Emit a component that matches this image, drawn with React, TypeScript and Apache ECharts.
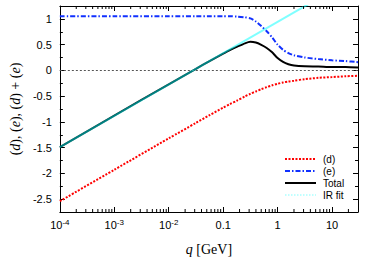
import React, { useEffect, useRef } from 'react';
import * as echarts from 'echarts';

// q in GeV
const qValues = [1e-4, 1e-3, 1e-2, 0.0316, 0.0562, 0.1, 0.133, 0.178, 0.251, 0.316, 0.398, 0.501, 0.631, 0.794, 1, 1.26, 1.58, 2.0, 3.16, 5.62, 10, 17.8, 30];
const dValues = [-2.54, -1.93, -1.32, -1.02, -0.87, -0.725, -0.655, -0.59, -0.505, -0.455, -0.41, -0.365, -0.325, -0.29, -0.26, -0.235, -0.215, -0.2, -0.17, -0.145, -0.13, -0.115, -0.105];
const eValues = [1.05, 1.05, 1.05, 1.05, 1.05, 1.05, 1.05, 1.045, 1.03, 1.01, 0.95, 0.86, 0.76, 0.64, 0.5, 0.4, 0.335, 0.295, 0.25, 0.22, 0.195, 0.18, 0.16];
const totalValues = [-1.49, -0.88, -0.27, 0.03, 0.18, 0.325, 0.395, 0.455, 0.525, 0.555, 0.54, 0.495, 0.435, 0.35, 0.24, 0.165, 0.12, 0.095, 0.08, 0.075, 0.065, 0.065, 0.055];
const irFitQ = [1e-4, 10];
const irFitValues = [-1.49, 1.55];

const seriesNames = ['(d)', '(e)', 'Total', 'IR fit'];
const yMajorTicks = [-2.5, -2, -1.5, -1, -0.5, 0, 0.5, 1];
const yMinorTicks = [-2.25, -1.75, -1.25, -0.75, -0.25, 0.25, 0.75];
const X_MIN = 1e-4;
const X_MAX = 30;
const Y_MIN = -2.75;
const Y_MAX = 1.25;

const xMinorTicks: number[] = [];
for (let ex = -4; ex <= 1; ex++) {
  for (let k = 2; k <= 9; k++) {
    const v = parseFloat((k * Math.pow(10, ex)).toPrecision(3));
    if (v < X_MAX) xMinorTicks.push(v);
  }
}

const SANS = 'Liberation Sans';
const SERIF = 'Liberation Serif';

function xLabel(v: number): string {
  const lg = Math.log10(v);
  const ex = Math.round(lg);
  if (Math.abs(lg - ex) > 1e-6) return '';
  if (ex <= -2) return '10{s|' + ex + '}';
  if (ex === -1) return '0.1';
  return String(Math.pow(10, ex));
}

function xAxisCfg(position: 'bottom' | 'top', showLabel: boolean) {
  return {
    type: 'log',
    logBase: 10,
    min: X_MIN,
    max: X_MAX,
    position,
    axisLine: { show: true, onZero: false, lineStyle: { color: '#000', width: 1 } },
    axisTick: { show: true, inside: true, length: 5, lineStyle: { color: '#000', width: 1 } },
    minorTick: { show: false },
    splitLine: { show: false },
    axisLabel: {
      show: showLabel,
      margin: 6,
      formatter: xLabel,
      color: '#000',
      fontFamily: SANS,
      fontSize: 11,
      lineHeight: 14,
      rich: {
        s: { fontSize: 8, fontFamily: SANS, color: '#000', verticalAlign: 'top', lineHeight: 8 },
      },
    },
    name: showLabel ? '{i|q} [GeV]' : '',
    nameLocation: 'middle',
    nameGap: 30,
    nameTextStyle: {
      fontFamily: SERIF,
      fontSize: 14,
      color: '#000',
      rich: { i: { fontStyle: 'italic', fontFamily: SERIF, fontSize: 14, color: '#000' } },
    },
  };
}

function yAxisCfg(position: 'left' | 'right', ticks: number[], len: number, showLine: boolean, showLabel: boolean, withName: boolean) {
  return {
    type: 'value',
    min: Y_MIN,
    max: Y_MAX,
    position,
    axisLine: { show: showLine, onZero: false, lineStyle: { color: '#000', width: 1 } },
    axisTick: { show: true, inside: true, length: len, customValues: ticks, lineStyle: { color: '#000', width: 1 } },
    splitLine: { show: false },
    axisLabel: {
      show: showLabel,
      customValues: ticks,
      margin: 8,
      color: '#000',
      fontFamily: SANS,
      fontSize: 11,
      formatter: (v: number) => String(v),
    },
    name: withName ? '({i|d}), ({i|e}), ({i|d}) + ({i|e})' : '',
    nameLocation: 'middle',
    nameRotate: 90,
    nameGap: 33,
    nameTextStyle: {
      fontFamily: SERIF,
      fontSize: 14,
      color: '#000',
      rich: { i: { fontStyle: 'italic', fontFamily: SERIF, fontSize: 14, color: '#000' } },
    },
  };
}

export default function App() {
  const ref = useRef<HTMLDivElement>(null);
  useEffect(() => {
    document.body.style.margin = '0';
    if (!ref.current) return;
    const chart = echarts.init(ref.current, null, { renderer: 'svg' });
    const pairs = (vals: number[]) => qValues.map((x, i) => [x, vals[i]]);
    const hidden = { color: 'transparent', borderColor: 'transparent', borderWidth: 0, opacity: 0 };
    const option = {
      animation: false,
      backgroundColor: '#fff',
      grid: { left: 58, right: 8, top: 6, bottom: 45, containLabel: false },
      xAxis: [xAxisCfg('bottom', true), xAxisCfg('top', false)],
      yAxis: [
        yAxisCfg('left', yMajorTicks, 5, true, true, true),
        yAxisCfg('left', yMinorTicks, 3, false, false, false),
        yAxisCfg('right', yMajorTicks, 5, true, false, false),
        yAxisCfg('right', yMinorTicks, 3, false, false, false),
      ],
      legend: {
        orient: 'vertical',
        left: 279,
        top: 149,
        itemWidth: 31,
        itemHeight: 10,
        itemGap: 2,
        itemStyle: hidden,
        textStyle: { fontFamily: SANS, fontSize: 10, color: '#000', padding: [0, 0, 0, 2] },
        data: [
          { name: '(d)', itemStyle: hidden },
          { name: '(e)', itemStyle: hidden },
          { name: 'Total', itemStyle: hidden },
          { name: 'IR fit', itemStyle: hidden, lineStyle: { type: [1.5, 1.5], width: 1 } },
        ],
      },
      series: [
        {
          name: seriesNames[0],
          type: 'line',
          data: pairs(dValues),
          symbol: 'none',
          smooth: 0.25,
          lineStyle: { color: '#ff0000', width: 2, type: [2, 1.5] },
          itemStyle: { color: '#ff0000' },
          markLine: {
            silent: true,
            symbol: ['none', 'none'],
            label: { show: false },
            lineStyle: { color: '#555', type: [2, 2], width: 1 },
            data: [{ yAxis: 0 }],
          },
          z: 2,
        },
        {
          name: seriesNames[1],
          type: 'line',
          data: pairs(eValues),
          symbol: 'none',
          smooth: 0.25,
          lineStyle: { color: '#1030ff', width: 2, type: [5, 2, 1.5, 2] },
          itemStyle: { color: '#1030ff' },
          z: 3,
        },
        {
          name: seriesNames[2],
          type: 'line',
          data: pairs(totalValues),
          symbol: 'none',
          smooth: 0.25,
          lineStyle: { color: '#000', width: 2 },
          itemStyle: { color: '#000' },
          z: 4,
        },
        {
          name: seriesNames[3],
          type: 'line',
          data: irFitQ.map((x, i) => [x, irFitValues[i]]),
          symbol: 'none',
          lineStyle: { color: '#00ffff', width: 2, opacity: 0.5 },
          itemStyle: { color: '#00ffff' },
          z: 5,
        },
        {
          name: 'xMinor',
          type: 'custom',
          silent: true,
          xAxisIndex: 0,
          yAxisIndex: 0,
          data: xMinorTicks.map((v) => [v]),
          encode: { x: 0 },
          clip: false,
          renderItem: (params: any, api: any) => {
            const v = api.value(0);
            const pb = api.coord([v, Y_MIN]);
            const pt = api.coord([v, Y_MAX]);
            const st = { stroke: '#000', lineWidth: 1 };
            return {
              type: 'group',
              children: [
                { type: 'line', shape: { x1: pb[0], y1: pb[1], x2: pb[0], y2: pb[1] - 3 }, style: st },
                { type: 'line', shape: { x1: pt[0], y1: pt[1], x2: pt[0], y2: pt[1] + 3 }, style: st },
              ],
            };
          },
          z: 10,
        },
      ],
    };
    chart.setOption(option as any);
    return () => chart.dispose();
  }, []);
  return <div ref={ref} style={{ width: 366, height: 261 }} />;
}
